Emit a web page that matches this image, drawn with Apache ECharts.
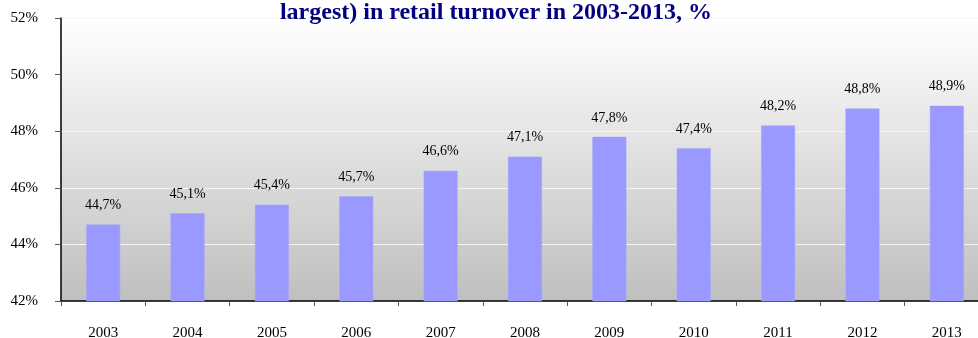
<!DOCTYPE html>
<html><head><meta charset="utf-8">
<script src="https://cdn.jsdelivr.net/npm/echarts@6/dist/echarts.min.js"></script>
<style>html,body{margin:0;padding:0;background:#fff}#c{width:978px;height:338px}</style>
</head><body><div id="c"></div>
<script>
const titleText = 'largest) in retail turnover in 2003-2013, %';
const categories = ['2003','2004','2005','2006','2007','2008','2009','2010','2011','2012','2013'];
const shareValues = [44.7, 45.1, 45.4, 45.7, 46.6, 47.1, 47.8, 47.4, 48.2, 48.8, 48.9];
const yMin = 42, yMax = 52, yStep = 2;

const serif = '"Liberation Serif","Times New Roman",serif';
const chart = echarts.init(document.getElementById('c'), null, {renderer:'canvas'});
chart.setOption({
  animation:false,
  title:{text:titleText, left:491, textAlign:'center', top:-4,
    textStyle:{fontFamily:serif, fontWeight:'bold', fontSize:24, color:'#000080'}},
  grid:{left:61, width:928, top:18, height:283, show:true, borderWidth:0,
    outerBoundsMode:'none', containLabel:false,
    backgroundColor:new echarts.graphic.LinearGradient(0,0,0,1,[{offset:0,color:'#ffffff'},{offset:1,color:'#bfbfbf'}])},
  xAxis:{type:'category', data:categories,
    axisLine:{lineStyle:{color:'#000', width:1.5}},
    axisTick:{show:true, alignWithLabel:false, length:5, lineStyle:{color:'#555'}},
    axisLabel:{fontFamily:serif, fontSize:15, color:'#000', margin:25}},
  yAxis:{type:'value', min:yMin, max:yMax, interval:yStep,
    axisLine:{show:true, lineStyle:{color:'#000', width:1.5}},
    axisTick:{show:true, length:6, lineStyle:{color:'#555'}},
    splitLine:{lineStyle:{color:'#f4f4f4', width:1}},
    axisLabel:{fontFamily:serif, fontSize:15, color:'#000', margin:23, formatter:'{value}%'}},
  series:[{type:'bar', data:shareValues, barWidth:34,
    itemStyle:{color:'#9999ff', borderColor:'#a8a8ff', borderWidth:0.5},
    label:{show:true, position:'top', distance:12, fontFamily:serif, fontSize:14, color:'#000',
      formatter:p=>String(p.value.toFixed(1)).replace('.',',')+'%'}}]
});
</script></body></html>
